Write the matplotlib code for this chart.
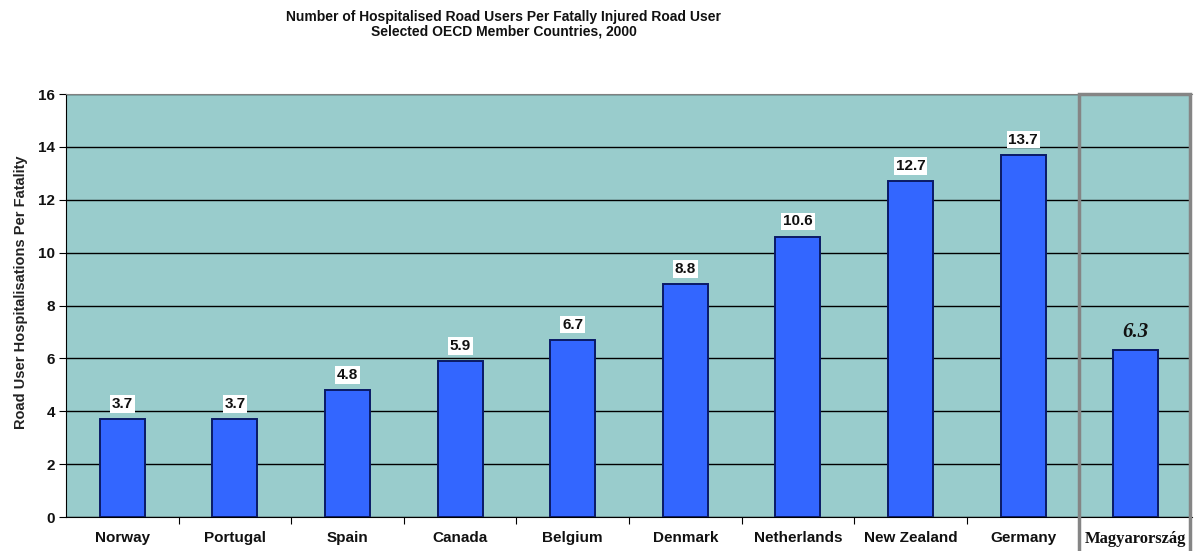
import matplotlib.pyplot as plt
from matplotlib.patches import Rectangle

# 2000-es OECD adatok
countries = ['Norway', 'Portugal', 'Spain', 'Canada', 'Belgium', 'Denmark',
             'Netherlands', 'New Zealand', 'Germany', 'Magyarország']
values = [3.7, 3.7, 4.8, 5.9, 6.7, 8.8, 10.6, 12.7, 13.7, 6.3]
labels = ['3.7', '3.7', '4.8', '5.9', '6.7', '8.8', '10.6', '12.7', '13.7', '6.3']
yticks = [0, 2, 4, 6, 8, 10, 12, 14, 16]

fig = plt.figure(figsize=(11.96, 5.51), dpi=100)
ax = fig.add_axes([0.0552, 0.0617, 0.9415, 0.7677])
ax.set_facecolor('#99CCCC')

x = list(range(len(countries)))
ax.bar(x, values, width=0.4, color='#3366FF', edgecolor='#0A1A66', linewidth=1.4, zorder=3)

# értékcímkék
for i, (v, lab) in enumerate(zip(values, labels)):
    if i < len(countries) - 1:
        ax.annotate(lab, (i, v), xytext=(0, 11), textcoords='offset points',
                    ha='center', va='center', fontsize=11, fontweight='bold',
                    family='Liberation Sans', color='#111111',
                    bbox=dict(boxstyle='square,pad=0.12', fc='white', ec='none'),
                    zorder=5)
    else:
        ax.annotate(lab, (i, v), xytext=(0, 13), textcoords='offset points',
                    ha='center', va='center', fontsize=15, fontweight='bold',
                    style='italic', family='Liberation Serif', color='#111111',
                    zorder=5)

ax.set_xlim(-0.5, len(countries) - 0.5)
ax.set_ylim(0, 16)
ax.set_yticks(yticks)
ax.set_yticklabels([str(t) for t in yticks], fontsize=11, fontweight='bold',
                   family='Liberation Sans', color='#111111')
ax.yaxis.grid(True, color='black', linewidth=1.0, zorder=1)
ax.set_axisbelow(True)

# x tengely: osztásjelek a kategóriák között
ax.set_xticks([i + 0.5 for i in x[:-2]])
ax.set_xticklabels([])
ax.set_xticks(x, minor=True)
ax.set_xticklabels(countries, minor=True, fontsize=11, fontweight='bold',
                   family='Liberation Sans', color='#111111')
ax.tick_params(axis='x', which='minor', length=0, pad=10)
ax.tick_params(axis='x', which='major', length=5, direction='out')
ax.tick_params(axis='y', length=5, direction='out', pad=3)
for lab in ax.get_xticklabels(minor=True)[-1:]:
    lab.set_family('Liberation Serif')
    lab.set_fontsize(12)

ax.spines['top'].set_color('#808080')
ax.spines['right'].set_visible(False)
ax.spines['left'].set_color('black')
ax.spines['bottom'].set_color('black')

ax.set_ylabel('Road User Hospitalisations Per Fatality', fontsize=10.5,
              fontweight='bold', family='Liberation Sans', color='#222222')
ax.yaxis.set_label_coords(-0.034, 0.532)

# kiemelő keret Magyarország körül
x0 = ax.transData.transform((8.5, 16))
x1 = ax.transData.transform((9.5, 16))
inv = fig.transFigure.inverted()
fx0, fy_top = inv.transform(x0)
fx1, _ = inv.transform(x1)
fig.patches.append(Rectangle((fx0, -0.01), fx1 - fx0 - 0.002, fy_top + 0.01,
                             transform=fig.transFigure, fill=False,
                             edgecolor='#858585', linewidth=2.5, zorder=10))

fig.text(0.421, 0.969, 'Number of Hospitalised Road Users Per Fatally Injured Road User',
         ha='center', va='center', fontsize=10, fontweight='bold',
         family='Liberation Sans', color='#111111')
fig.text(0.421, 0.942, 'Selected OECD Member Countries, 2000',
         ha='center', va='center', fontsize=10, fontweight='bold',
         family='Liberation Sans', color='#111111')

fig.savefig('out.png', dpi=100)
